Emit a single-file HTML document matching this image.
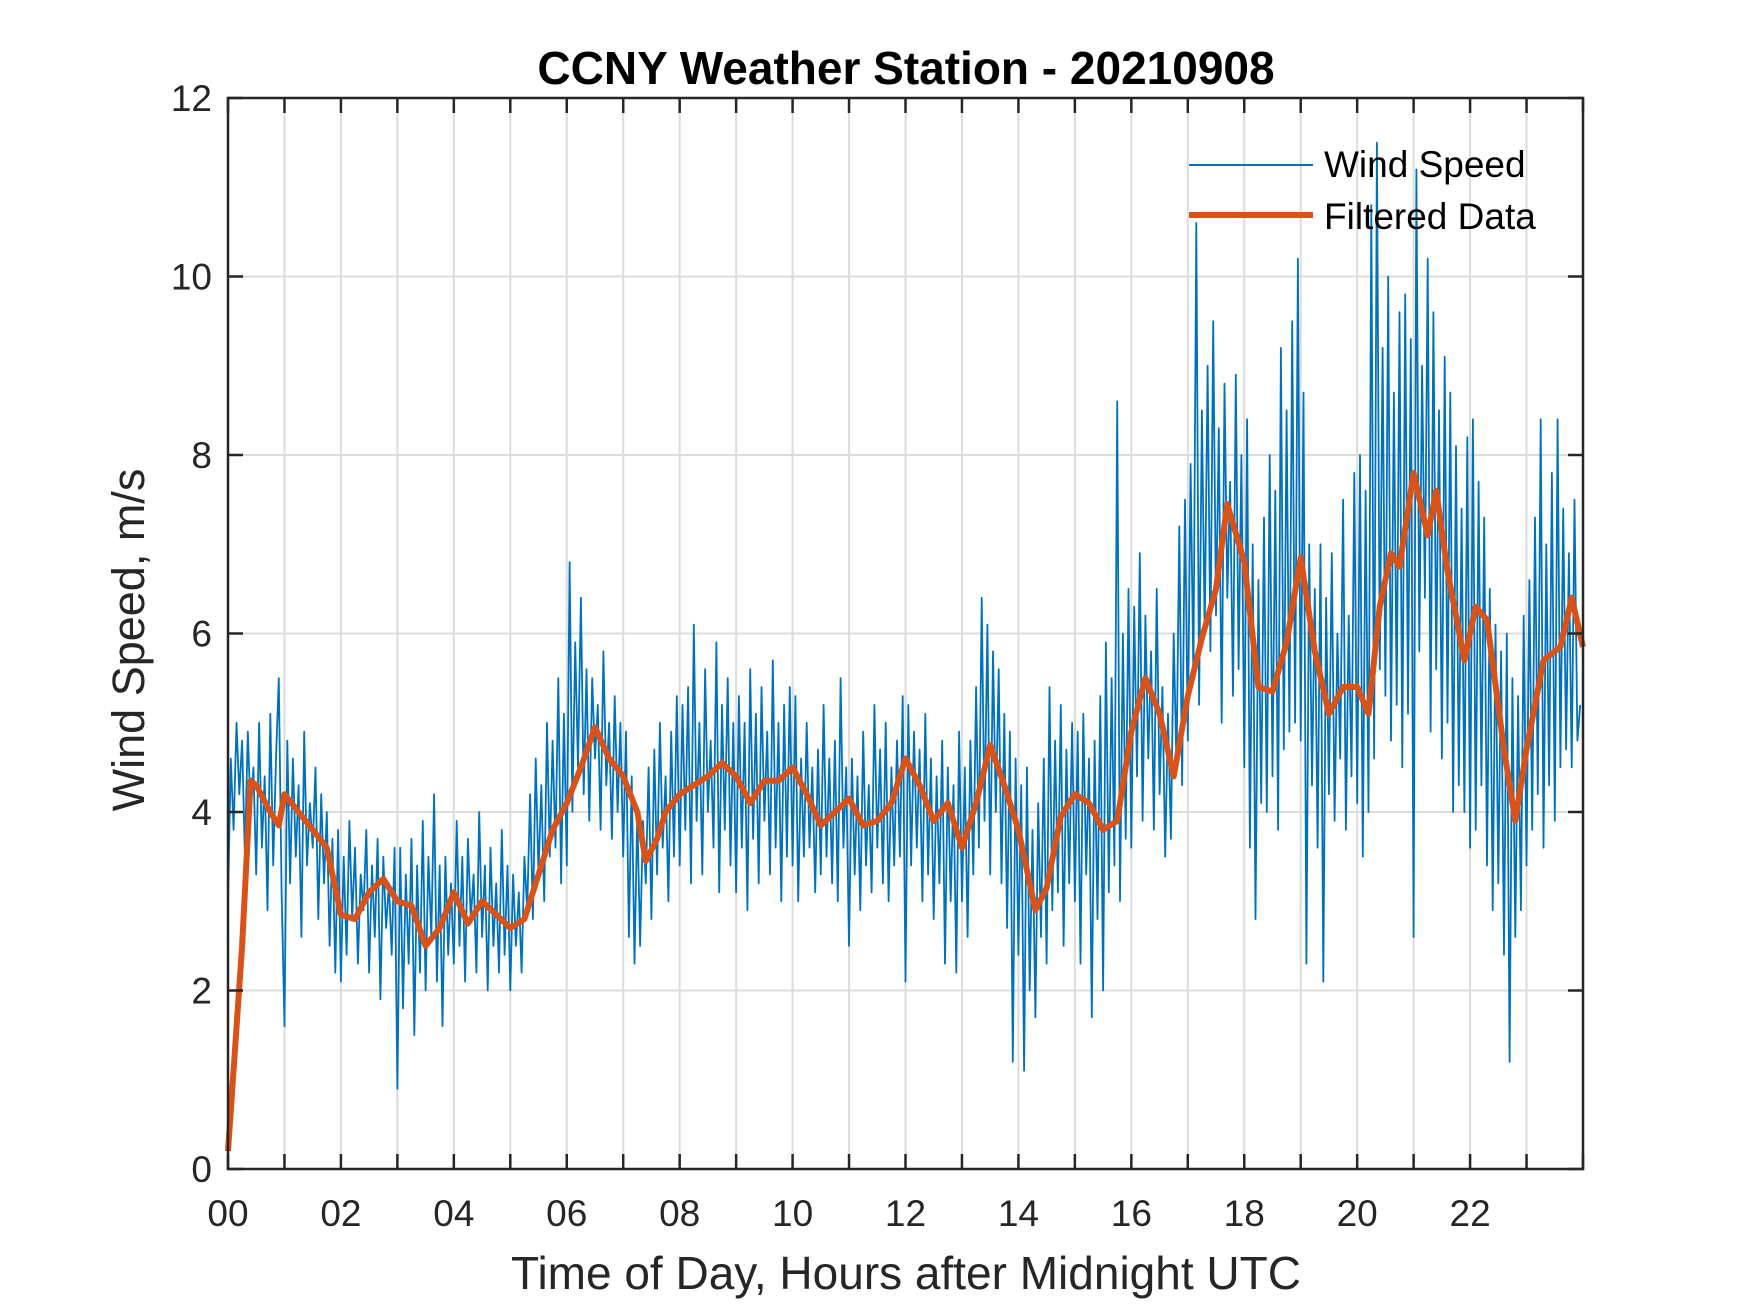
<!DOCTYPE html>
<html><head><meta charset="utf-8"><style>
html,body{margin:0;padding:0;background:#fff;}
svg{display:block;font-family:"Liberation Sans",Arial,sans-serif;}
</style></head><body>
<svg id="chart" width="1750" height="1313" viewBox="0 0 1750 1313" xmlns="http://www.w3.org/2000/svg">
<rect width="1750" height="1313" fill="#fff"/>
<g id="grid"></g>
<g id="plot"></g>
<g id="axes"></g>
<text x="906" y="84" text-anchor="middle" font-size="46" font-weight="bold" fill="#000">CCNY Weather Station - 20210908</text>
<text x="906" y="1289" text-anchor="middle" font-size="46" fill="#262626">Time of Day, Hours after Midnight UTC</text>
<text transform="translate(144,640) rotate(-90)" text-anchor="middle" font-size="45" fill="#262626">Wind Speed, m/s</text>
<g>
<line x1="1189" y1="165" x2="1313" y2="165" stroke="#0072BD" stroke-width="2"/>
<text x="1324" y="177" font-size="37" fill="#000">Wind Speed</text>
<line x1="1189" y1="215" x2="1313" y2="215" stroke="#D95319" stroke-width="6"/>
<text x="1324" y="229" font-size="37" fill="#000">Filtered Data</text>
</g>
</svg>
<script>
const xTickLabels = ["00","02","04","06","08","10","12","14","16","18","20","22"];
const yTickLabels = ["0","2","4","6","8","10","12"];
const rawStepHours = 0.05;
const windSpeed = [
3.0,4.6,3.8,5.0,4.2,4.8,3.5,4.9,4.0,4.5,3.3,5.0,3.6,4.4,2.9,5.1,3.4,4.6,5.5,3.1,
1.6,4.8,3.2,4.6,3.5,4.3,2.6,4.9,3.4,4.1,3.6,4.5,2.8,4.2,3.2,4.0,2.5,3.7,2.2,3.8,
2.1,3.5,2.4,3.9,2.8,3.6,2.3,3.3,2.9,3.8,2.2,3.4,2.6,3.7,1.9,3.5,2.7,3.2,2.4,3.6,
0.9,3.6,1.8,3.3,2.3,3.7,1.5,3.4,2.2,3.9,2.0,3.5,2.6,4.2,2.1,3.4,1.6,3.5,2.4,3.2,
2.3,3.9,2.5,3.5,2.1,3.7,2.8,3.3,2.2,4.0,2.6,3.4,2.0,3.6,2.5,3.2,2.2,3.8,2.4,3.4,
2.0,3.3,2.5,3.1,2.2,3.5,2.9,4.2,2.8,4.6,3.3,4.3,3.0,5.0,3.5,4.8,3.6,5.5,3.2,5.1,
3.4,6.8,4.0,5.9,4.5,6.4,4.2,5.6,3.9,5.5,4.6,5.2,3.8,5.8,4.3,5.0,3.7,5.3,4.0,5.0,
3.5,4.9,2.6,4.4,2.3,4.0,2.5,3.9,3.2,4.5,2.8,4.7,3.3,5.0,3.6,4.4,3.0,4.9,3.5,5.3,
3.4,5.2,3.8,5.4,3.2,6.1,3.9,5.0,3.3,5.6,4.0,4.8,3.6,5.9,3.1,5.2,3.8,5.5,3.4,5.0,
3.1,5.3,3.6,5.0,2.9,5.6,3.7,5.1,3.2,5.4,3.9,4.9,3.3,5.7,3.6,5.0,3.0,5.2,3.5,5.4,
3.4,5.3,3.0,4.6,3.5,5.0,3.6,4.5,3.1,4.7,3.3,5.2,3.5,4.6,3.2,4.8,3.0,5.5,3.6,4.5,
2.5,4.6,3.3,4.4,2.9,4.9,3.4,4.3,3.1,5.2,3.6,4.7,3.2,5.0,3.0,4.5,3.4,4.8,3.5,5.3,
2.1,5.2,3.4,4.9,3.6,4.7,3.0,5.1,3.3,4.6,2.8,4.4,3.2,4.8,2.3,4.5,3.0,4.3,2.2,4.9,
3.0,4.5,2.6,4.8,3.3,5.4,3.6,6.4,3.9,6.1,3.3,5.8,4.0,5.6,3.2,5.1,2.7,4.9,1.2,4.6,
2.4,4.3,1.1,4.5,2.0,3.8,1.7,4.1,2.6,4.6,2.3,5.4,2.9,4.8,3.1,5.2,2.5,4.7,3.2,5.0,
3.0,4.9,2.3,5.1,3.3,4.6,1.7,4.8,2.8,5.3,2.0,5.9,3.1,5.5,3.4,8.6,3.0,6.0,3.7,6.5,
3.6,6.3,4.4,6.9,3.9,6.2,4.6,5.8,3.8,6.5,4.2,5.4,3.5,5.1,3.7,6.0,4.5,7.2,4.3,7.5,
4.8,7.9,5.5,10.6,5.2,8.5,6.0,9.0,5.8,9.5,6.2,8.3,5.0,8.8,6.4,7.7,5.3,8.9,5.6,8.0,
4.5,8.4,3.6,7.0,2.8,6.6,4.1,7.3,4.0,8.0,4.4,7.6,3.8,9.2,4.7,8.5,4.9,9.5,5.0,10.2,
4.8,8.7,2.3,7.0,4.3,6.5,3.6,7.0,2.1,6.4,4.2,6.9,3.9,6.0,4.6,7.5,3.8,6.2,4.4,7.8,
4.1,8.0,3.5,7.6,4.0,10.8,4.6,11.5,5.6,9.2,5.3,10.0,4.8,8.7,5.2,9.6,4.5,9.8,5.1,9.3,
2.6,11.2,5.8,9.0,6.4,10.2,4.9,9.6,5.6,8.5,4.6,9.1,5.0,8.7,4.0,8.1,4.3,7.4,4.0,8.2,
3.6,8.4,3.8,7.7,4.3,7.3,3.4,6.5,2.9,6.1,3.2,5.8,2.4,6.0,1.2,5.5,2.6,5.3,2.9,6.2,
3.4,6.6,3.8,7.3,4.2,8.4,3.6,7.0,4.3,7.8,3.9,8.4,4.5,7.4,4.7,6.9,4.5,7.5,4.8,5.2
];
const filteredTimes = [0,0.25,0.4,0.5,0.75,0.9,1.0,1.25,1.5,1.75,2.0,2.25,2.5,2.75,3.0,3.25,3.5,3.75,4.0,4.25,4.5,4.75,5.0,5.25,5.5,5.75,6.0,6.25,6.5,6.75,7.0,7.25,7.4,7.6,7.75,8.0,8.25,8.5,8.75,9.0,9.25,9.5,9.75,10.0,10.25,10.5,10.75,11.0,11.25,11.5,11.75,12.0,12.25,12.5,12.75,13.0,13.25,13.5,13.75,14.0,14.3,14.5,14.75,15.0,15.25,15.5,15.75,16.0,16.25,16.5,16.75,17.0,17.25,17.5,17.7,18.0,18.25,18.5,18.75,19.0,19.25,19.5,19.75,20.0,20.2,20.4,20.6,20.75,21.0,21.25,21.4,21.6,21.9,22.1,22.3,22.6,22.8,23.0,23.3,23.6,23.8,24.0];
const filteredValues = [0.2,2.5,4.35,4.3,4.0,3.85,4.2,4.0,3.8,3.6,2.85,2.8,3.1,3.25,3.0,2.95,2.5,2.7,3.1,2.75,3.0,2.85,2.7,2.8,3.3,3.8,4.1,4.5,4.95,4.6,4.4,4.0,3.45,3.7,4.0,4.2,4.3,4.4,4.55,4.4,4.1,4.35,4.35,4.5,4.2,3.85,4.0,4.15,3.85,3.9,4.1,4.6,4.3,3.9,4.1,3.6,4.1,4.75,4.3,3.8,2.9,3.15,3.95,4.2,4.1,3.8,3.9,4.9,5.5,5.1,4.4,5.3,5.95,6.5,7.45,6.8,5.4,5.35,5.9,6.85,5.8,5.1,5.4,5.4,5.1,6.3,6.9,6.75,7.8,7.1,7.6,6.7,5.7,6.3,6.15,4.7,3.9,4.7,5.7,5.85,6.4,5.85];

const NS="http://www.w3.org/2000/svg";
const L=228,R=1583,T=98,B=1169,XMAX=24,YMAX=12;
const xs=h=>L+(R-L)*h/XMAX;
const ys=v=>B-(B-T)*v/YMAX;
function mk(tag,attrs,parent){const e=document.createElementNS(NS,tag);for(const k in attrs)e.setAttribute(k,attrs[k]);parent.appendChild(e);return e;}
const grid=document.getElementById('grid'),plot=document.getElementById('plot'),axes=document.getElementById('axes');

for(let h=0;h<=XMAX;h++){
  if(h>0&&h<XMAX){
    const g=mk('line',{x1:xs(h),y1:T,x2:xs(h),y2:B,stroke:'#dcdcdc','stroke-width':2},grid);
    
    
  }
  const t1=mk('line',{x1:xs(h),y1:B,x2:xs(h),y2:B-15,stroke:'#262626','stroke-width':2.5},axes);
  
  
  const t2=mk('line',{x1:xs(h),y1:T,x2:xs(h),y2:T+15,stroke:'#262626','stroke-width':2.5},axes);
  
  
}
xTickLabels.forEach((lab,i)=>{
  const t=mk('text',{x:xs(i*2),y:1226,'text-anchor':'middle','font-size':37,fill:'#262626'},axes);
  t.textContent=lab;
  
  
});
yTickLabels.forEach((lab,i)=>{
  const v=+lab;
  if(v>0&&v<YMAX){
    const g=mk('line',{x1:L,y1:ys(v),x2:R,y2:ys(v),stroke:'#dcdcdc','stroke-width':2},grid);
    
    
  }
  const a=mk('line',{x1:L,y1:ys(v),x2:L+15,y2:ys(v),stroke:'#262626','stroke-width':2.5},axes);
  
  
  const b=mk('line',{x1:R,y1:ys(v),x2:R-15,y2:ys(v),stroke:'#262626','stroke-width':2.5},axes);
  
  
  const t=mk('text',{x:212,y:ys(v)+13,'text-anchor':'end','font-size':37,fill:'#262626'},axes);
  t.textContent=lab;
  
  
});

const rawPts=windSpeed.map((v,i)=>xs(i*rawStepHours).toFixed(1)+','+ys(v).toFixed(1)).join(' ');
const raw=mk('polyline',{points:rawPts,fill:'none',stroke:'#0072BD','stroke-width':1.8,'stroke-linejoin':'round'},plot);


const fPts=filteredTimes.map((t,i)=>xs(t).toFixed(1)+','+ys(filteredValues[i]).toFixed(1)).join(' ');
const filt=mk('polyline',{points:fPts,fill:'none',stroke:'#D95319','stroke-width':6,'stroke-linejoin':'round'},plot);



const box=mk('rect',{x:L,y:T,width:R-L,height:B-T,fill:'none',stroke:'#262626','stroke-width':2.5},axes);


</script>
</body></html>
